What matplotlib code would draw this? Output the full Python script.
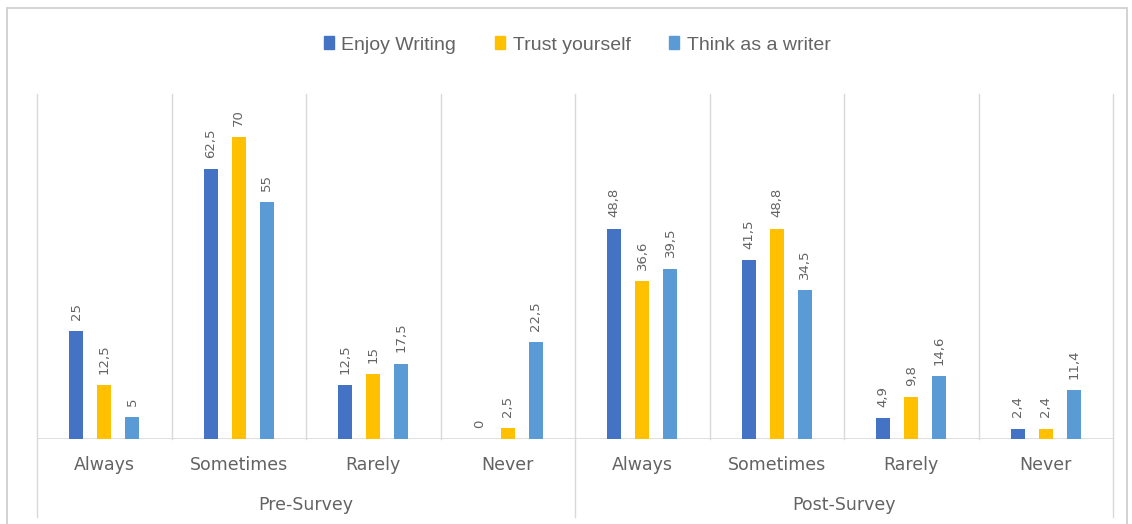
import matplotlib
matplotlib.use("Agg")
import matplotlib.pyplot as plt
from matplotlib.patches import Rectangle
from matplotlib.lines import Line2D
from matplotlib.transforms import blended_transform_factory

# Survey data
groups = ["Pre-Survey", "Post-Survey"]
categories = ["Always", "Sometimes", "Rarely", "Never"]
series_names = ["Enjoy Writing", "Trust yourself", "Think as a writer"]
enjoy_writing = [25, 62.5, 12.5, 0, 48.8, 41.5, 4.9, 2.4]
trust_yourself = [12.5, 70, 15, 2.5, 36.6, 48.8, 9.8, 2.4]
think_as_writer = [5, 55, 17.5, 22.5, 39.5, 34.5, 14.6, 11.4]

series_values = [enjoy_writing, trust_yourself, think_as_writer]
colors = ["#4472C4", "#FFC000", "#5B9BD5"]
text_color = "#636363"
grid_color = "#D9D9D9"

W, H = 1132, 524
fig = plt.figure(figsize=(W / 100, H / 100), dpi=100)
fig.patch.set_facecolor("white")

# plot area in pixel coordinates
left_px, right_px, top_px, base_px = 37, 1113, 94, 439
ax = fig.add_axes([left_px / W, 1 - base_px / H,
                   (right_px - left_px) / W, (base_px - top_px) / H])
ax.set_facecolor("none")

n_cat = len(groups) * len(categories)
xs = list(range(n_cat))
offsets = [-0.208, 0.0, 0.208]
bar_w = 0.104

for vals, off, col, name in zip(series_values, offsets, colors, series_names):
    pos = [x + off for x in xs]
    ax.bar(pos, vals, width=bar_w, color=col, label=name, zorder=3)
    for p, v in zip(pos, vals):
        ax.text(p, v + 2.6, f"{v:g}".replace(".", ","), rotation=90,
                ha="center", va="bottom", fontsize=9.5, color=text_color,
                family="DejaVu Sans")

ax.set_xlim(-0.5, n_cat - 0.5)
ax.set_ylim(0, 80)
for s in ax.spines.values():
    s.set_visible(False)
ax.set_xticks([])
ax.set_yticks([])

# baseline and vertical category separators
ax.axhline(0, color=grid_color, lw=1.2, zorder=2)
depth = -(517 - base_px) / (base_px - top_px)
sep_tr = blended_transform_factory(ax.transData, ax.transAxes)
for i in range(n_cat + 1):
    xb = i - 0.5
    y0 = depth if i % len(categories) == 0 else 0
    ax.add_line(Line2D([xb, xb], [y0, 1], transform=sep_tr,
                       color=grid_color, lw=1.0, clip_on=False, zorder=1))

# category and group labels
tr = blended_transform_factory(ax.transData, fig.transFigure)
for i in range(n_cat):
    ax.text(i, 1 - 465 / H, categories[i % len(categories)], transform=tr,
            ha="center", va="center", fontsize=12.5, color=text_color,
            family="DejaVu Sans")
for g, name in enumerate(groups):
    xc = g * len(categories) + (len(categories) - 1) / 2
    ax.text(xc, 1 - 505 / H, name, transform=tr, ha="center", va="center",
            fontsize=12.5, color=text_color, family="DejaVu Sans")

# legend
handles = [Rectangle((0, 0), 1, 1, color=c) for c in colors]
leg = fig.legend(handles, series_names, loc="center", ncol=3,
                 bbox_to_anchor=(0.51, 1 - 45 / H), frameon=False,
                 handlelength=0.5, handleheight=0.6, handletextpad=0.4,
                 columnspacing=2.0,
                 prop={"family": "Liberation Sans", "size": 14})
for t in leg.get_texts():
    t.set_color(text_color)

# chart border
fig.patches.append(Rectangle((7 / W, -0.02), (1127 - 7) / W, 1 - 8 / H + 0.02,
                             transform=fig.transFigure, fill=False,
                             edgecolor="#D0D0D0", lw=1.3, zorder=0))

fig.savefig("out.png", dpi=100, facecolor="white")
